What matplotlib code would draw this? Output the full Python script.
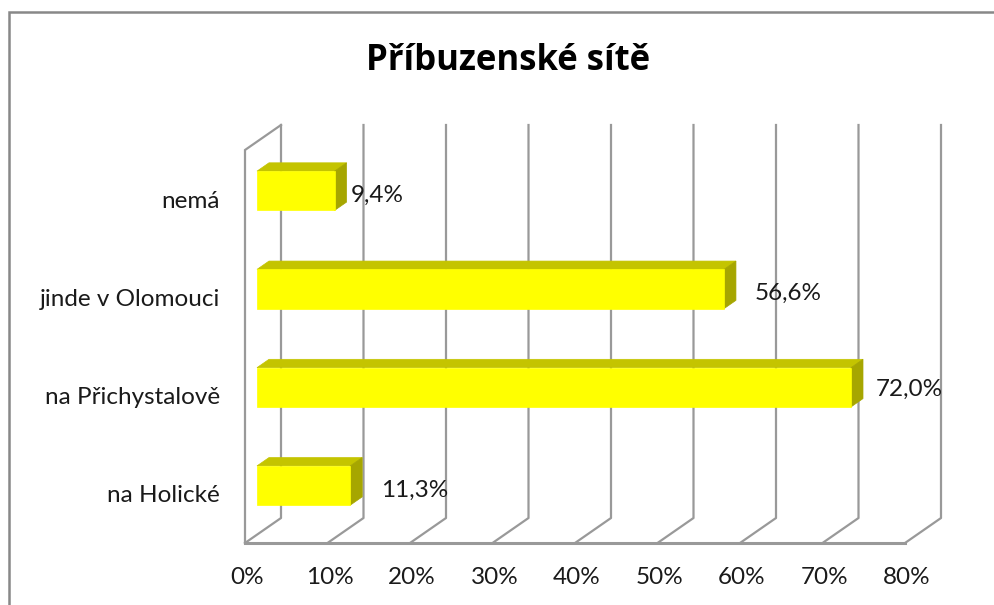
import matplotlib
matplotlib.use("Agg")
import matplotlib.pyplot as plt
from matplotlib.patches import Polygon, Rectangle
from matplotlib.lines import Line2D

# Data (bottom to top)
categories = ["na Holické", "na Přichystalově", "jinde v Olomouci", "nemá"]
values = [11.3, 72.0, 56.6, 9.4]
value_labels = ["11,3%", "72,0%", "56,6%", "9,4%"]
ticks = [0, 10, 20, 30, 40, 50, 60, 70, 80]
tick_labels = ["0%", "10%", "20%", "30%", "40%", "50%", "60%", "70%", "80%"]
title = "Příbuzenské sítě"

FONT = ["Lato", "DejaVu Sans"]
TITLE_FONT = ["Open Sans", "DejaVu Sans"]
W, H, DPI = 995, 605, 100

fig = plt.figure(figsize=(W / DPI, H / DPI), dpi=DPI)
fig.patch.set_facecolor("white")

# Front plane of the 3-D box, in pixels
left_px, right_px, top_px, bottom_px = 245, 905, 150, 543
ax = fig.add_axes([left_px / W, (H - bottom_px) / H,
                   (right_px - left_px) / W, (bottom_px - top_px) / H])
ax.set_xlim(0, 80)
ax.set_ylim(-0.5, 3.5)
ax.axis("off")

# depth of the box converted into data units (36 px right, 25 px up)
px_per_x = (right_px - left_px) / 80
px_per_y = (bottom_px - top_px) / 4
ddx = 36 / px_per_x
ddy = 25 / px_per_y

grid_c = "#999999"
lw = 1.6
y0, y1 = -0.5, 3.5

# left wall outline
ax.add_line(Line2D([0, 0, ddx], [y0, y1, y1 + ddy], color=grid_c, lw=lw,
                   clip_on=False, solid_joinstyle="miter"))
# floor front edge
ax.add_line(Line2D([0, 80], [y0, y0], color=grid_c, lw=lw + 0.6, clip_on=False))
# back wall gridlines and floor diagonals
for t in ticks:
    ax.add_line(Line2D([t, t + ddx, t + ddx], [y0, y0 + ddy, y1 + ddy],
                       color=grid_c, lw=lw, clip_on=False))

# bars
bar_h = 0.4
d1x, d1y = ddx / 3, ddy / 3
d2x, d2y = 2 * ddx / 3, 2 * ddy / 3
front_c, top_c, side_c = "#FFFF00", "#C4C400", "#A6A600"
for i, v in enumerate(values):
    lo, hi = i - bar_h / 2, i + bar_h / 2
    front = [(0 + d1x, lo + d1y), (v + d1x, lo + d1y),
             (v + d1x, hi + d1y), (0 + d1x, hi + d1y)]
    top = [(0 + d1x, hi + d1y), (v + d1x, hi + d1y),
           (v + d2x, hi + d2y), (0 + d2x, hi + d2y)]
    side = [(v + d1x, lo + d1y), (v + d2x, lo + d2y),
            (v + d2x, hi + d2y), (v + d1x, hi + d1y)]
    for pts, c in ((top, top_c), (side, side_c), (front, front_c)):
        ax.add_patch(Polygon(pts, closed=True, facecolor=c, edgecolor=c,
                             lw=0.5, clip_on=False, zorder=3))

# value labels, placed just past the bar end
label_dx = [19, 13, 19, 4]
label_dy = [4, 6.5, 4, 3.5]
for i, (v, s) in enumerate(zip(values, value_labels)):
    ax.annotate(s, (v + d2x, i), xytext=(label_dx[i], label_dy[i]),
                textcoords="offset pixels", ha="left", va="center",
                fontsize=17.5, family=FONT, color="#1a1a1a", zorder=5,
                annotation_clip=False)

# category labels
for i, c in enumerate(categories):
    ax.annotate(c, (0, i), xytext=(-25, -2), textcoords="offset pixels",
                ha="right", va="center", fontsize=17.5, family=FONT,
                color="#1a1a1a", annotation_clip=False)

# x tick labels
for t, s in zip(ticks, tick_labels):
    ax.annotate(s, (t, y0), xytext=(2, -34), textcoords="offset pixels",
                ha="center", va="center", fontsize=17.5, family=FONT,
                color="#1a1a1a", annotation_clip=False)

# title
fig.text(508 / W, 1 - 61 / H, title, ha="center", va="center",
         fontsize=25, fontweight="bold", family=TITLE_FONT, color="black")

# chart border
fig.add_artist(Rectangle((8.5 / W, -0.1), 1.2, 1.1 - 12 / H,
                         transform=fig.transFigure, fill=False,
                         edgecolor="#888888", lw=1.8))

fig.savefig("out.png", dpi=DPI)
